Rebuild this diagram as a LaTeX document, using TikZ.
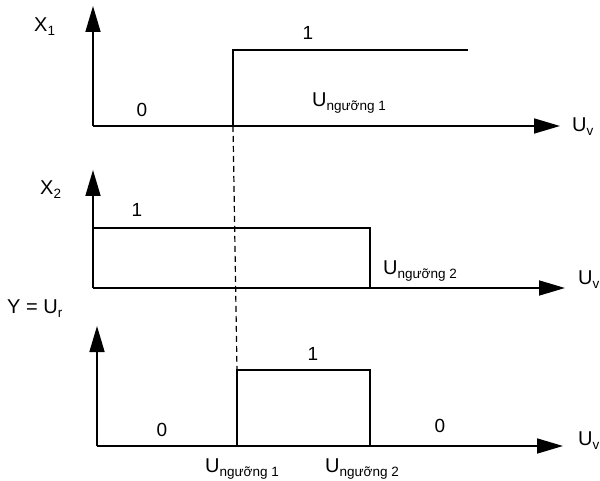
\documentclass[tikz,border=0pt]{standalone}
\usepackage{fontspec}
\setmainfont{Liberation Sans}
\usetikzlibrary{arrows.meta}
\newcommand\usub[2]{#1\raisebox{-4pt}{\fontsize{13.5}{13.5}\selectfont #2}}
\begin{document}
\begin{tikzpicture}[x=1pt,y=-1pt,
  axis/.style={line width=1.7pt, -{Triangle[length=26pt,width=15pt]}},
  sig/.style={line width=1.5pt},
  lbl/.style={font=\fontsize{19}{19}\selectfont, inner sep=0pt},
  ulbl/.style={font=\fontsize{20}{20}\selectfont, inner sep=0pt, anchor=base west}]
\useasboundingbox (0,0) rectangle (600,481);
% top graph
\coordinate (o1) at (93,126);
\coordinate (y1) at (93,6);
\coordinate (x1) at (560,126);
\coordinate (s1b) at (233,126);
\coordinate (s1t) at (233,50);
\coordinate (s1e) at (468,50);
\draw[axis] (o1) -- (y1);
\draw[axis] (o1) -- (x1);
\draw[sig] (s1b) -- (s1t) -- (s1e);
% middle graph
\coordinate (o2) at (93,288);
\coordinate (y2) at (93,170);
\coordinate (x2) at (565,288);
\coordinate (r2a) at (93,228);
\coordinate (r2b) at (370,228);
\coordinate (r2c) at (370,288);
\draw[axis] (o2) -- (y2);
\draw[axis] (o2) -- (x2);
\draw[sig] (r2a) -- (r2b) -- (r2c);
% bottom graph
\coordinate (o3) at (97,446);
\coordinate (y3) at (97,326);
\coordinate (x3) at (563,446);
\coordinate (p1) at (237,446);
\coordinate (p2) at (237,370);
\coordinate (p3) at (370,370);
\coordinate (p4) at (370,446);
\draw[axis] (o3) -- (y3);
\draw[axis] (o3) -- (x3);
\draw[sig] (p1) -- (p2) -- (p3) -- (p4);
% dashed guide
\draw[line width=1.2pt, dash pattern=on 6pt off 4pt] (s1b) -- (p2);
% labels
\node[ulbl] (lx1) at (34,32) {\usub{X}{1}};
\node[ulbl] (lx2) at (40,195) {\usub{X}{2}};
\node[ulbl] (ly) at (7,313) {Y = \usub{U}{r}};
\node[ulbl] (lu1) at (572,132) {\usub{U}{v}};
\node[ulbl] (lu2) at (578,285) {\usub{U}{v}};
\node[ulbl] (lu3) at (578,445) {\usub{U}{v}};
\node[ulbl] (t1) at (312,107) {\usub{U}{ngưỡng 1}};
\node[ulbl] (t2) at (383,275) {\usub{U}{ngưỡng 2}};
\node[ulbl] (t3) at (205,472) {\usub{U}{ngưỡng 1}};
\node[ulbl] (t4) at (325,472) {\usub{U}{ngưỡng 2}};
\node[lbl] (z1) at (142,110) {0};
\node[lbl] (one1) at (308,33) {1};
\node[lbl] (one2) at (137,210) {1};
\node[lbl] (z2) at (162,430) {0};
\node[lbl] (one3) at (313,354) {1};
\node[lbl] (z3) at (440,426) {0};
\end{tikzpicture}
\end{document}
